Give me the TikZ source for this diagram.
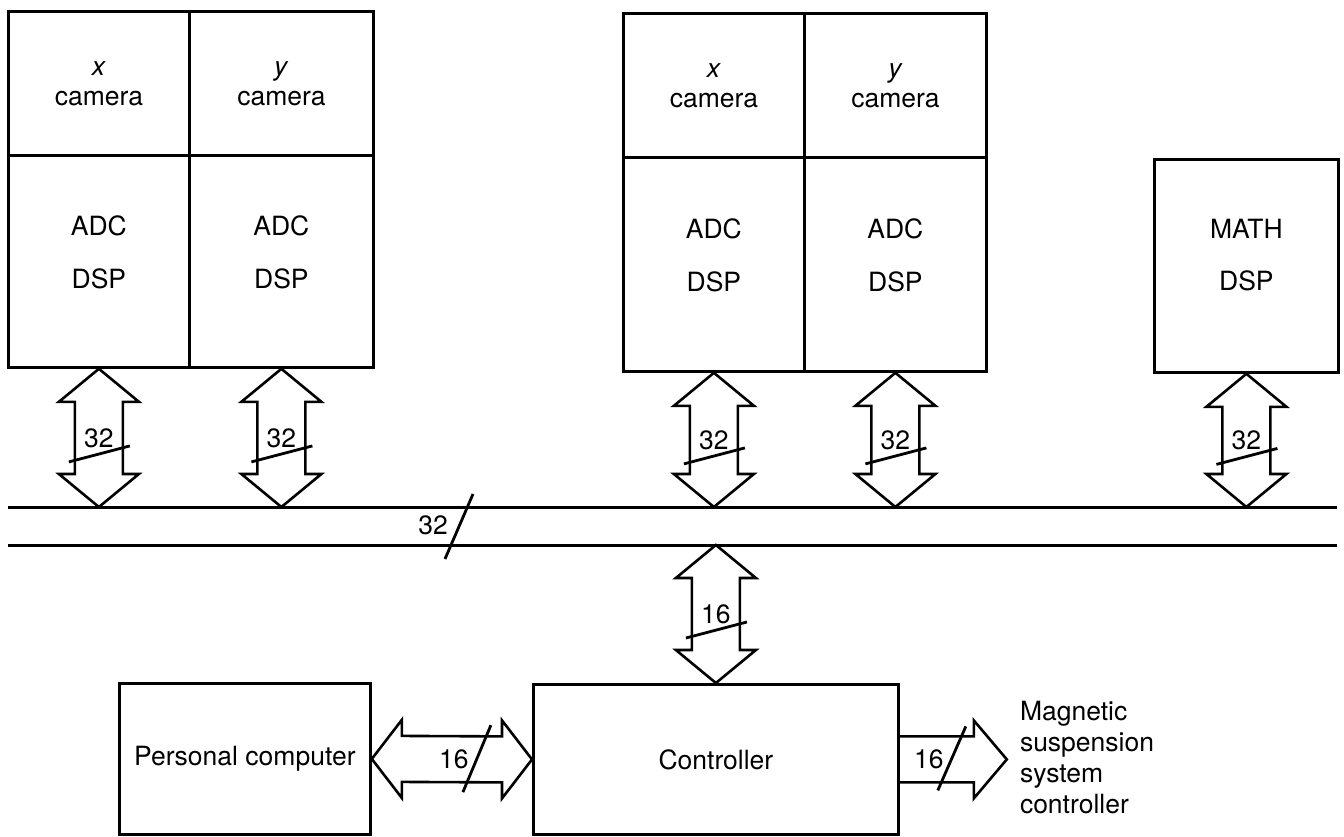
\documentclass[tikz,border=0pt]{standalone}
\usepackage{fontspec}
\setmainfont{TeX Gyre Heros}
\usetikzlibrary{calc,positioning}

% fat bus arrow between two points, with width label and slash
\newcommand{\buslink}[4]{%
  \coordinate (#1-t) at (#2);
  \coordinate (#1-b) at (#3);
  \coordinate (#1-m) at ($(#1-t)!0.5!(#1-b)$);
  \draw[fatarrow] (#1-t) -- ($(#1-t)+(40,33)$) -- ($(#1-t)+(24,33)$) -- ($(#1-b)+(24,-33)$)
    -- ($(#1-b)+(40,-33)$) -- (#1-b) -- ($(#1-b)+(-40,-33)$) -- ($(#1-b)+(-24,-33)$)
    -- ($(#1-t)+(-24,33)$) -- ($(#1-t)+(-40,33)$) -- cycle;
  \node[buswidth] (#1-lab) at (#1-m) {#4};
  \draw[slash] ($(#1-m)+(-30,24)$) -- ($(#1-m)+(31,8)$);
}

\begin{document}
\begin{tikzpicture}[x=1pt, y=-1pt, line join=miter,
    box/.style={draw, line width=2.8pt, inner sep=0pt, anchor=north west, align=center,
      font=\fontsize{26.5}{30}\selectfont},
    boxtext/.style={inner sep=0pt, align=center, font=\fontsize{26.5}{30}\selectfont},
    fatarrow/.style={draw, line width=2.6pt},
    buswidth/.style={inner sep=0pt, font=\fontsize{26.5}{30}\selectfont},
    slash/.style={line width=2.8pt},
    bus/.style={line width=3pt}]
    \useasboundingbox (0,0) rectangle (1344,836);

    % Camera boards, left pair
    \node[box, minimum width=181pt, minimum height=144pt] (xcamA) at (7,10) {\textit{x}\\camera};
    \node[box, minimum width=184pt, minimum height=144pt] (ycamA) at (188,10) {\textit{y}\\camera};
    \node[box, minimum width=181pt, minimum height=212pt] (adcA) at (7,154) {};
    \node[box, minimum width=184pt, minimum height=212pt] (adcB) at (188,154) {};

    % Camera boards, right pair
    \node[box, minimum width=181pt, minimum height=144pt] (xcamB) at (622,12) {\textit{x}\\camera};
    \node[box, minimum width=182pt, minimum height=144pt] (ycamB) at (803,12) {\textit{y}\\camera};
    \node[box, minimum width=181pt, minimum height=214pt] (adcC) at (622,156) {};
    \node[box, minimum width=182pt, minimum height=214pt] (adcD) at (803,156) {};

    % Math board
    \node[box, minimum width=184pt, minimum height=213pt] (math) at (1153,158) {};

    \foreach \b in {adcA,adcB,adcC,adcD} {
        \node[boxtext] (\b-txt) at ([yshift=9pt]\b.center) {ADC\\[23pt]DSP};
    }
    \node[boxtext] (math-txt) at ([yshift=11pt]math.center) {MATH\\[22pt]DSP};

    % System bus
    \coordinate (bustop) at (8,507);
    \coordinate (bustopE) at (1337,507);
    \coordinate (busbot) at (8,545);
    \coordinate (busbotE) at (1337,545);
    \draw[bus] (bustop) -- (bustopE);
    \draw[bus] (busbot) -- (busbotE);
    \node[buswidth] (buslab) at (433,525) {32};
    \draw[slash] ($(buslab)+(12,34)$) -- ($(buslab)+(40,-31)$);

    % Board to bus links
    \foreach \b in {adcA,adcB,adcC,adcD,math} {
        \buslink{\b-l}{\b.south}{\b.south |- bustop}{32}
    }

    % Lower boards
    \node[box, minimum width=251pt, minimum height=151pt] (pc) at (118,682) {Personal computer};
    \node[box, minimum width=365pt, minimum height=150pt] (ctrl) at (532,683) {Controller};

    \buslink{cl}{ctrl.north |- busbot}{ctrl.north}{16}

    % PC to controller
    \coordinate (pl-m) at ($(pc.east)!0.5!(ctrl.west)$);
    \draw[fatarrow] (pc.east) -- ($(pc.east)+(30,-39)$) -- ($(pc.east)+(30,-23)$)
        -- ($(ctrl.west)+(-30,-23)$) -- ($(ctrl.west)+(-30,-39)$) -- (ctrl.west)
        -- ($(ctrl.west)+(-30,39)$) -- ($(ctrl.west)+(-30,23)$) -- ($(pc.east)+(30,23)$)
        -- ($(pc.east)+(30,39)$) -- cycle;
    \node[buswidth] (pl-lab) at ($(pl-m)+(2,0)$) {16};
    \draw[slash] ($(pl-m)+(11,33)$) -- ($(pl-m)+(39,-34)$);

    % Controller output
    \coordinate (msc) at ($(ctrl.east)+(107,0)$);
    \draw[fatarrow] ($(ctrl.east)+(0,-23)$) -- ($(msc)+(-33,-23)$) -- ($(msc)+(-33,-39)$)
        -- (msc) -- ($(msc)+(-33,39)$) -- ($(msc)+(-33,23)$) -- ($(ctrl.east)+(0,23)$);
    \node[buswidth] (ol-lab) at ($(ctrl.east)+(29,0)$) {16};
    \draw[slash] ($(ctrl.east)+(38,31)$) -- ($(ctrl.east)+(66,-33)$);
    \node[anchor=west, align=left, inner sep=0pt, font=\fontsize{26.5}{31}\selectfont]
        (msctext) at ($(msc)+(13,-2)$) {Magnetic\\suspension\\system\\controller};
\end{tikzpicture}
\end{document}
